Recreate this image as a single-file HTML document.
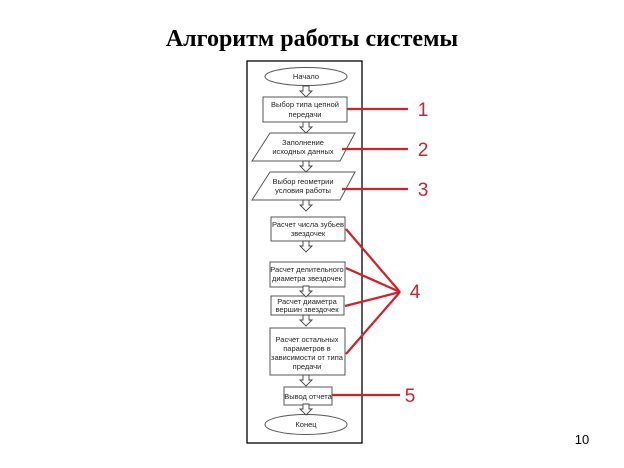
<!DOCTYPE html>
<html><head><meta charset="utf-8"><style>
body{margin:0;background:#fff;width:624px;height:468px;overflow:hidden}
svg{display:block}
.t{font-family:"Liberation Sans","DejaVu Sans",sans-serif;font-size:7.5px;fill:#222;text-anchor:middle}
.n{font-family:"Liberation Sans",sans-serif;font-size:19px;fill:#d0202a;text-anchor:middle}
</style></head><body>
<svg width="624" height="468" viewBox="0 0 624 468">
<text x="312" y="46" text-anchor="middle" font-family="Liberation Serif,serif" font-weight="bold" font-size="24">Алгоритм работы системы</text>
<rect x="247" y="61" width="115" height="382" fill="#fff" stroke="#000" stroke-width="1.3"/>
<defs>
<g id="ar"><path d="M-3,0 H3 V5 H6 L0,11 L-6,5 H-3 Z" fill="#fff" stroke="#444" stroke-width="0.9"/></g>
</defs>
<g stroke="#555" stroke-width="1" fill="#fff">
<ellipse cx="306" cy="76.5" rx="41" ry="9"/>
<rect x="263" y="97" width="84" height="25"/>
<polygon points="270,133 355,133 340,161 252,161"/>
<polygon points="270,172 355,172 340,200 252,200"/>
<rect x="271" y="217" width="74" height="24"/>
<rect x="270" y="262" width="75" height="25"/>
<rect x="271" y="296" width="73" height="19"/>
<rect x="270" y="328" width="75" height="47"/>
<rect x="284" y="387" width="48" height="18"/>
<ellipse cx="306" cy="424.5" rx="41" ry="10"/>
</g>
<use href="#ar" x="306" y="86"/>
<use href="#ar" x="306" y="122"/>
<use href="#ar" x="306" y="161"/>
<use href="#ar" x="306" y="200"/>
<use href="#ar" x="306" y="241"/>
<use href="#ar" x="306" y="286"/>
<use href="#ar" x="306" y="315"/>
<use href="#ar" x="306" y="375"/>
<use href="#ar" x="306" y="404"/>
<text class="t" x="306" y="79">Начало</text>
<text class="t" x="305" y="107">Выбор типа цепной</text>
<text class="t" x="305" y="117">передачи</text>
<text class="t" x="303" y="145">Заполнение</text>
<text class="t" x="303" y="154">исходных данных</text>
<text class="t" x="303" y="184">Выбор геометрии</text>
<text class="t" x="303" y="193">условия работы</text>
<text class="t" x="308" y="227">Расчет числа зубьев</text>
<text class="t" x="308" y="236">звездочек</text>
<text class="t" x="307" y="272">Расчет делительного</text>
<text class="t" x="307" y="281">диаметра звездочек</text>
<text class="t" x="307" y="304">Расчет диаметра</text>
<text class="t" x="307" y="312">вершин звездочек</text>
<text class="t" x="307" y="342">Расчет остальных</text>
<text class="t" x="307" y="351">параметров в</text>
<text class="t" x="307" y="360">зависимости от типа</text>
<text class="t" x="307" y="369">предачи</text>
<text class="t" x="308" y="399">Вывод отчета</text>
<text class="t" x="306" y="427">Конец</text>
<g stroke="#d0202a" stroke-width="2.2" fill="none">
<line x1="347" y1="109" x2="408" y2="109"/>
<line x1="342" y1="149" x2="408" y2="149"/>
<line x1="342" y1="189" x2="408" y2="189"/>
<line x1="346" y1="229" x2="400" y2="292"/>
<line x1="346" y1="268" x2="400" y2="292"/>
<line x1="345" y1="306" x2="400" y2="292"/>
<line x1="346" y1="354" x2="400" y2="292"/>
<line x1="332" y1="395" x2="400" y2="395"/>
</g>
<text class="n" x="423" y="116">1</text>
<text class="n" x="423" y="156">2</text>
<text class="n" x="423" y="196">3</text>
<text class="n" x="415" y="298">4</text>
<text class="n" x="410" y="402">5</text>
<text x="582" y="444" text-anchor="middle" font-family="Liberation Sans,sans-serif" font-size="13">10</text>
</svg>
</body></html>
